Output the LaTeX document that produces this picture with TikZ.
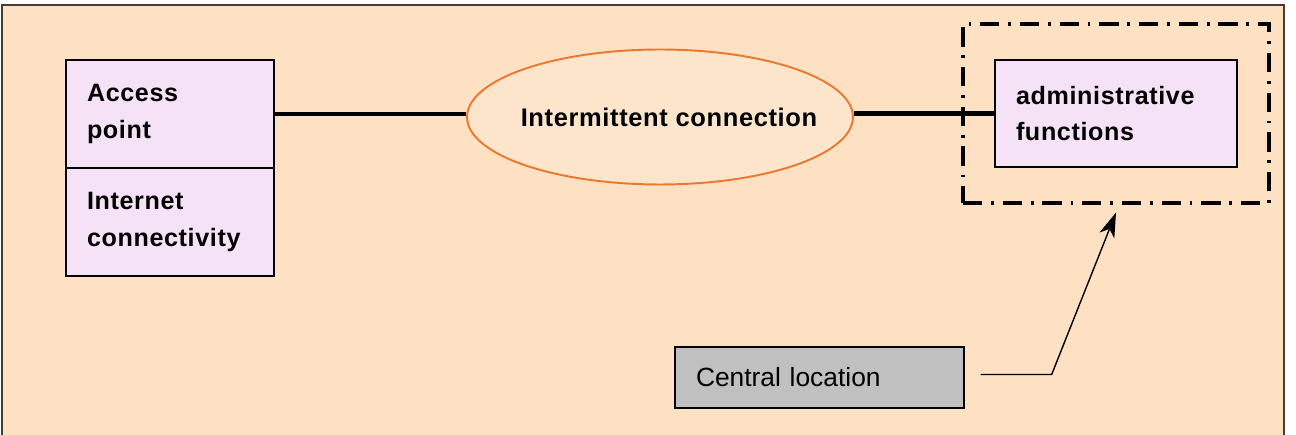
\documentclass[tikz,border=0pt]{standalone}
\usepackage{fontspec}
\setmainfont{Liberation Sans}
\newfontfamily\boldspaced[LetterSpace=2.5]{Liberation Sans}
\usetikzlibrary{shapes,arrows,arrows.meta,positioning,calc,fit}
\definecolor{peach}{RGB}{254,224,194}
\definecolor{lilac}{RGB}{246,226,246}
\definecolor{linkfill}{RGB}{252,229,203}
\definecolor{linkedge}{RGB}{235,120,45}
\definecolor{sitegray}{RGB}{192,192,192}
\definecolor{framegray}{RGB}{70,60,55}

\begin{document}
\begin{tikzpicture}[x=0.02cm, y=-0.02cm,
        block/.style={rectangle, draw, thick, fill=lilac, minimum height=2.16cm, inner ysep=0pt,
            inner xsep=0.42cm, align=left, font=\boldspaced\fontsize{14.3}{20.8}\selectfont\bfseries, outer sep=0pt},
        link/.style={ellipse, draw=linkedge, line width=1.1pt, fill=linkfill, minimum width=7.72cm,
            minimum height=2.7cm, inner sep=0pt, font=\boldspaced\fontsize{14.5}{18}\selectfont\bfseries},
        wire/.style={line width=2.6pt},
        site/.style={rectangle, draw, thick, fill=sitegray, minimum height=1.22cm, inner xsep=0.42cm,
            text width=4.94cm, align=left, font=\fontsize{15}{18}\selectfont},
        frame/.style={draw, line width=1.8pt, dash pattern=on 11pt off 5pt on 1.6pt off 5pt},
        pointer/.style={-{Stealth[length=14pt,width=9pt,inset=4pt]}, line width=0.8pt}
    ]
        % background panel
        \useasboundingbox (0,0) rectangle (1296,435);
        \draw[framegray, line width=1.2pt, fill=peach] (2,5) rectangle (1284,450);

        \node[block, text width=3.32cm] (access) at (170,114) {Access\\point};
        \node[block, text width=3.32cm, below=0pt of access] (internet) {Internet\\connectivity};
        \node[link] (conn) at (660,117) {\makebox[0pt]{\hspace{0.36cm}Intermittent connection}};
        \node[block, text width=4.0cm, minimum height=2.14cm] (admin) at (1116,113.5) {administrative\\functions};
        \node[frame, fit=(admin), inner xsep=0.64cm, inner ysep=0.72cm] (hub) {};
        \node[site] (central) at (819.5,377.5) {Central location};

        \draw[wire] (access.east) -- (access.east -| conn.west);
        \draw[wire] (admin.west -| conn.east) -- (admin.west);
        \draw[pointer] ($(central.east)+(16,-3)$) -- ++(71,0) -- ($(hub.south)+(0,8)$);
    \end{tikzpicture}
\end{document}
